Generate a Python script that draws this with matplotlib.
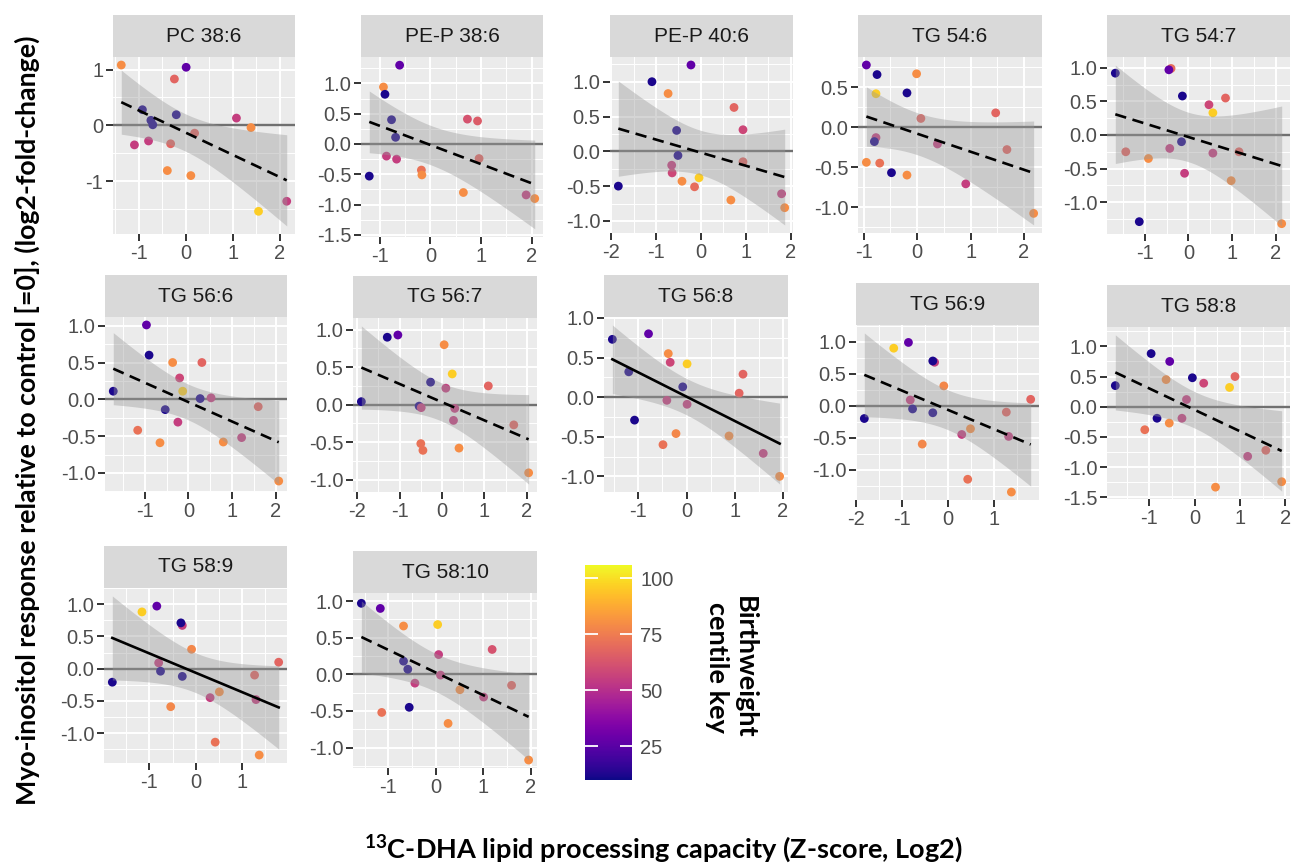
import numpy as np
import matplotlib
matplotlib.use("Agg")
import matplotlib.pyplot as plt
from matplotlib import colors
from matplotlib.cm import ScalarMappable
from matplotlib.ticker import MultipleLocator

plt.rcParams['font.family'] = ['Liberation Sans', 'DejaVu Sans']
plt.rcParams['axes.unicode_minus'] = False
plt.rcParams['mathtext.fontset'] = 'custom'
plt.rcParams['mathtext.bf'] = 'Lato:bold'
plt.rcParams['mathtext.rm'] = 'Lato'

# ---- data ----
panel_names = ["PC 38:6", "PE-P 38:6", "PE-P 40:6", "TG 54:6", "TG 54:7",
               "TG 56:6", "TG 56:7", "TG 56:8", "TG 56:9", "TG 58:8",
               "TG 58:9", "TG 58:10"]
significant = ["TG 56:8", "TG 58:9"]
y_steps = [1, 0.5, 0.5, 0.5, 0.5, 0.5, 0.5, 0.5, 0.5, 0.5, 0.5, 0.5]

pc386_x = [-1.37, 0.01, -0.24, -0.92, -0.20, -0.74, -0.70, 1.08, 1.39, 0.19, -1.09, -0.79, -0.32, -0.39, 0.11, 2.15, 1.55]
pc386_y = [1.08, 1.04, 0.83, 0.28, 0.19, 0.09, 0.01, 0.13, -0.04, -0.14, -0.35, -0.28, -0.33, -0.81, -0.90, -1.36, -1.54]
pc386_c = [80, 27, 68, 12, 12, 12, 12, 55, 80, 68, 55, 55, 68, 80, 80, 55, 96]

pep386_x = [-0.61, -0.93, -0.90, -0.77, -0.69, 0.73, 0.93, -0.87, -0.67, -1.21, -0.18, -0.17, 0.96, 0.65, 1.89, 2.06]
pep386_y = [1.30, 0.94, 0.82, 0.40, 0.11, 0.41, 0.38, -0.20, -0.25, -0.53, -0.43, -0.51, -0.24, -0.80, -0.84, -0.90]
pep386_c = [27, 80, 12, 12, 12, 62, 65, 55, 55, 12, 72, 80, 68, 80, 55, 80]

pep406_x = [-0.22, -1.09, -0.73, 0.74, 0.94, -0.54, -0.51, -0.65, -0.64, -0.04, -0.42, -0.14, 0.94, 0.67, -1.84, 1.80, 1.87]
pep406_y = [1.24, 1.00, 0.83, 0.63, 0.31, 0.30, -0.06, -0.20, -0.31, -0.38, -0.43, -0.51, -0.15, -0.70, -0.50, -0.61, -0.81]
pep406_c = [27, 12, 80, 68, 58, 12, 12, 55, 58, 96, 80, 70, 68, 80, 12, 55, 80]

tg546_x = [-0.95, -0.75, -0.01, -0.19, -0.77, 1.47, 0.07, -0.77, -0.80, 0.38, 1.68, -0.95, -0.70, -0.48, -0.19, 0.91, 2.18]
tg546_y = [0.78, 0.66, 0.67, 0.43, 0.42, 0.18, 0.11, -0.13, -0.18, -0.21, -0.28, -0.44, -0.45, -0.57, -0.60, -0.71, -1.08]
tg546_c = [27, 12, 80, 12, 96, 68, 68, 55, 12, 55, 68, 80, 72, 12, 80, 55, 80]

tg547_x = [-1.68, -0.40, -0.45, -0.14, 0.47, 0.85, 0.56, -1.44, -0.92, -0.43, -0.16, 0.56, 1.16, -0.09, 0.98, -1.13, 2.14]
tg547_y = [0.92, 0.99, 0.97, 0.58, 0.45, 0.55, 0.33, -0.25, -0.35, -0.20, -0.10, -0.27, -0.25, -0.57, -0.68, -1.29, -1.32]
tg547_c = [12, 70, 27, 12, 58, 68, 96, 68, 80, 55, 12, 55, 68, 55, 80, 12, 80]

tg566_x = [-0.96, -0.90, -0.36, 0.31, -0.20, -1.72, -0.13, 0.27, 0.52, -0.53, -0.24, 1.60, -1.16, -0.65, 0.80, 1.22, 2.07]
tg566_y = [1.01, 0.60, 0.50, 0.50, 0.29, 0.11, 0.11, 0.01, 0.02, -0.14, -0.31, -0.10, -0.42, -0.59, -0.58, -0.52, -1.11]
tg566_c = [27, 12, 80, 68, 58, 12, 96, 12, 55, 12, 55, 68, 72, 80, 80, 55, 80]

tg567_x = [-1.29, -1.04, 0.05, 0.24, -0.27, 0.09, 1.09, -1.90, -0.54, -0.49, 0.30, 0.27, 1.69, -0.50, -0.45, 0.40, 2.04]
tg567_y = [0.90, 0.93, 0.80, 0.41, 0.30, 0.22, 0.25, 0.04, -0.02, -0.04, -0.05, -0.21, -0.27, -0.52, -0.61, -0.58, -0.91]
tg567_c = [12, 27, 80, 96, 12, 55, 68, 12, 12, 55, 55, 55, 68, 72, 72, 80, 80]

tg568_x = [-1.54, -0.79, -0.38, -0.34, 0.01, -1.20, 1.17, -0.08, 1.09, -0.41, 0.01, -1.08, -0.22, -0.49, 0.88, 1.59, 1.93]
tg568_y = [0.73, 0.80, 0.55, 0.44, 0.42, 0.32, 0.29, 0.13, 0.05, -0.04, -0.09, -0.29, -0.46, -0.60, -0.49, -0.71, -1.00]
tg568_c = [12, 27, 80, 58, 96, 12, 68, 12, 68, 55, 55, 12, 78, 72, 80, 55, 80]

tg569_x = [-0.86, -1.18, -0.29, -0.33, -0.09, 1.80, -0.82, -0.77, -0.33, -1.82, 1.27, 0.49, 0.30, 1.32, -0.56, 0.43, 1.38]
tg569_y = [0.99, 0.90, 0.68, 0.70, 0.31, 0.10, 0.09, -0.05, -0.11, -0.20, -0.10, -0.36, -0.45, -0.48, -0.60, -1.15, -1.35]
tg569_c = [27, 96, 55, 12, 78, 68, 55, 12, 12, 12, 68, 80, 55, 55, 78, 72, 80]

tg588_x = [-0.96, -0.55, -1.75, -0.63, -0.05, 0.20, 0.89, 0.77, -0.18, -0.83, -0.28, -0.56, -1.10, 1.17, 1.57, 0.46, 1.92]
tg588_y = [0.88, 0.75, 0.35, 0.45, 0.48, 0.39, 0.50, 0.32, 0.12, -0.19, -0.19, -0.27, -0.38, -0.82, -0.72, -1.33, -1.24]
tg588_c = [12, 27, 12, 80, 12, 58, 68, 96, 55, 12, 55, 80, 72, 55, 68, 80, 80]

tg589_x = [-0.84, -1.16, -0.29, -0.32, -0.09, 1.79, -0.80, -0.76, -0.29, -1.80, 1.27, 0.51, 0.31, 1.30, -0.54, 0.42, 1.37]
tg589_y = [0.97, 0.88, 0.67, 0.71, 0.30, 0.10, 0.09, -0.04, -0.12, -0.21, -0.10, -0.36, -0.45, -0.48, -0.59, -1.14, -1.34]
tg589_c = [27, 96, 55, 12, 78, 68, 55, 12, 12, 12, 68, 80, 55, 55, 78, 72, 80]

tg5810_x = [-1.57, -1.17, -0.68, 0.04, 1.19, 0.06, -0.68, -0.59, 0.10, -0.44, 0.51, 1.01, 1.60, -0.56, -1.14, 0.26, 1.96]
tg5810_y = [0.97, 0.90, 0.66, 0.68, 0.34, 0.27, 0.18, 0.07, -0.01, -0.12, -0.21, -0.31, -0.15, -0.45, -0.52, -0.67, -1.17]
tg5810_c = [12, 27, 80, 96, 62, 55, 12, 12, 55, 55, 80, 55, 68, 12, 72, 80, 80]

cbar_ticks = [25, 50, 75, 100]
centile_min, centile_max = 10, 106

panel_x = [pc386_x, pep386_x, pep406_x, tg546_x, tg547_x, tg566_x,
           tg567_x, tg568_x, tg569_x, tg588_x, tg589_x, tg5810_x]
panel_y = [pc386_y, pep386_y, pep406_y, tg546_y, tg547_y, tg566_y,
           tg567_y, tg568_y, tg569_y, tg588_y, tg589_y, tg5810_y]
panel_c = [pc386_c, pep386_c, pep406_c, tg546_c, tg547_c, tg566_c,
           tg567_c, tg568_c, tg569_c, tg588_c, tg589_c, tg5810_c]

# plot areas in pixels: left, top, right, bottom
boxes = [(113, 57, 295, 234), (361, 57, 543, 237), (610, 57, 793, 233),
         (858, 57, 1042, 233), (1107, 57, 1290, 234),
         (105, 317, 287, 492), (353, 318, 537, 492), (604, 317, 788, 492),
         (856, 325, 1039, 500), (1107, 327, 1290, 499),
         (104, 588, 287, 763), (353, 593, 537, 768)]
strip_h = 42

# two-sided 95% t quantiles by degrees of freedom
t975 = {12: 2.179, 13: 2.160, 14: 2.145, 15: 2.131, 16: 2.120, 17: 2.110, 18: 2.101}

W, H = 1303, 868
fig = plt.figure(figsize=(W / 100, H / 100), dpi=100)


def px_axes(l, t, r, b):
    return fig.add_axes([l / W, 1 - b / H, (r - l) / W, (b - t) / H])


cmap = plt.get_cmap('plasma')
norm = colors.Normalize(vmin=centile_min, vmax=centile_max)

for i, name in enumerate(panel_names):
    l, t, r, b = boxes[i]
    ax = px_axes(l, t, r, b)
    sax = px_axes(l, t - strip_h, r, t)
    sax.set_facecolor('#d9d9d9')
    sax.set_xticks([])
    sax.set_yticks([])
    for s in sax.spines.values():
        s.set_visible(False)
    sax.text(0.5, 0.5, name, ha='center', va='center', fontsize=15,
             color='#1a1a1a', transform=sax.transAxes)

    x = np.array(panel_x[i])
    y = np.array(panel_y[i])
    c = np.array(panel_c[i])
    ax.set_facecolor('#ebebeb')
    ax.axhline(0, color='#707070', lw=1.7, zorder=2)
    ax.scatter(x, y, c=c, cmap=cmap, norm=norm, s=40, edgecolors='none', zorder=3)

    # linear fit with 95% confidence band (like geom_smooth(method="lm"))
    n = len(x)
    slope, icpt = np.polyfit(x, y, 1)
    xs = np.linspace(x.min(), x.max(), 80)
    fit = icpt + slope * xs
    resid = y - (icpt + slope * x)
    sd = np.sqrt(np.sum(resid ** 2) / (n - 2))
    se = sd * np.sqrt(1 / n + (xs - x.mean()) ** 2 / np.sum((x - x.mean()) ** 2))
    half = t975[n - 2] * se
    ax.fill_between(xs, fit - half, fit + half, color='#999999', alpha=0.4, lw=0, zorder=4)
    ls = '-' if name in significant else (0, (4.3, 2.5))
    ax.plot(xs, fit, color='black', lw=1.9, ls=ls, zorder=5)

    ax.xaxis.set_major_locator(MultipleLocator(1))
    ax.xaxis.set_minor_locator(MultipleLocator(0.5))
    ax.yaxis.set_major_locator(MultipleLocator(y_steps[i]))
    ax.yaxis.set_minor_locator(MultipleLocator(y_steps[i] / 2))
    ax.grid(which='major', color='white', lw=1.4)
    ax.grid(which='minor', color='white', lw=0.7)
    ax.set_axisbelow(True)
    for s in ax.spines.values():
        s.set_visible(False)
    ax.tick_params(which='major', length=5, width=1.4, color='#333333',
                   labelcolor='#4d4d4d', labelsize=14.5, pad=2)
    ax.tick_params(which='minor', length=0)
    ax.margins(0.05)

# colour bar
cax = px_axes(585, 565, 632, 780)
cb = fig.colorbar(ScalarMappable(norm=norm, cmap=cmap), cax=cax)
cb.set_ticks(cbar_ticks)
cb.outline.set_visible(False)
cax.tick_params(direction='in', length=9, width=1.3, color='white',
                labelcolor='#4d4d4d', labelsize=14.5, left=True, right=True, pad=6)
fig.text(731 / W, 1 - 667 / H, "Birthweight\ncentile key", rotation=-90,
         ha='center', va='center', multialignment='center', fontsize=19.5,
         fontweight='bold', family='Lato', color='black', linespacing=1.2)

fig.text(27 / W, 1 - 420 / H,
         "Myo-inositol response relative to control [=0], (log2-fold-change)",
         rotation=90, ha='center', va='center', fontsize=19.3, fontweight='bold',
         family='Lato')
fig.text(663 / W, 1 - 849 / H,
         r"$\mathbf{^{13}}$C-DHA lipid processing capacity (Z-score, Log2)",
         ha='center', va='center', fontsize=19.5, fontweight='bold', family='Lato')

fig.savefig("out.png", dpi=100)
